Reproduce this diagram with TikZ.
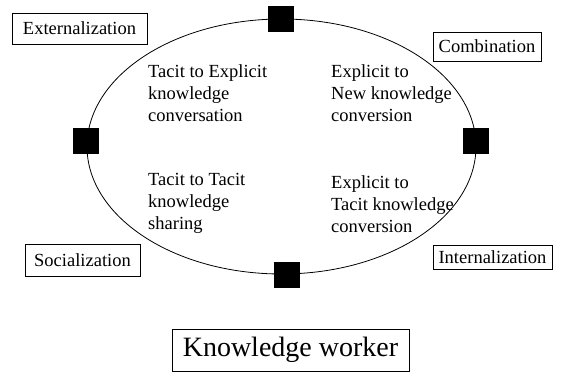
\documentclass[tikz,border=0pt]{standalone}
\usepackage{fontspec}
\setmainfont{Liberation Serif}
\usetikzlibrary{shapes.geometric}

\begin{document}
\begin{tikzpicture}[x=1pt,y=-1pt,
  mode/.style={draw,line width=.8pt,inner sep=0pt,font=\fontsize{18.5}{22}\selectfont},
  pivot/.style={fill=black,minimum size=26pt,inner sep=0pt},
  phase/.style={align=left,anchor=north west,inner sep=0pt,font=\fontsize{18.5}{22}\selectfont}]

\useasboundingbox (0,0) rectangle (562,372);

% the cycle
\node (cycle) at (281.5,146.5) [ellipse,draw,line width=.8pt,minimum width=389pt,minimum height=255pt,inner sep=0pt] {};

\node (sqTop) at (281,19) [pivot] {};
\node (sqLeft) at (86,141) [pivot] {};
\node (sqRight) at (476,141) [pivot] {};
\node (sqBottom) at (287,275) [pivot] {};

% conversions inside
\node (tacExp) at (148,64.5) [phase] {Tacit to Explicit\\knowledge\\conversation};
\node (expNew) at (331,64.5) [phase] {Explicit to\\New knowledge\\conversion};
\node (tacTac) at (148,173) [phase] {Tacit to Tacit\\knowledge\\sharing};
\node (expTac) at (331,175) [phase] {Explicit to\\Tacit knowledge\\conversion};

% modes
\node (ext) at (79.5,28.5) [mode,minimum width=135pt,minimum height=31pt] {Externalization};
\node (comb) at (487,46.5) [mode,minimum width=108pt,minimum height=29pt] {Combination};
\node (soc) at (82.5,260.5) [mode,minimum width=115pt,minimum height=32pt] {Socialization};
\node (int) at (492.5,257) [mode,minimum width=119pt,minimum height=24pt] {Internalization};

\node (worker) at (290.5,350) [mode,minimum width=237pt,minimum height=42pt,font=\fontsize{28}{34}\selectfont] {Knowledge worker};

\end{tikzpicture}
\end{document}
